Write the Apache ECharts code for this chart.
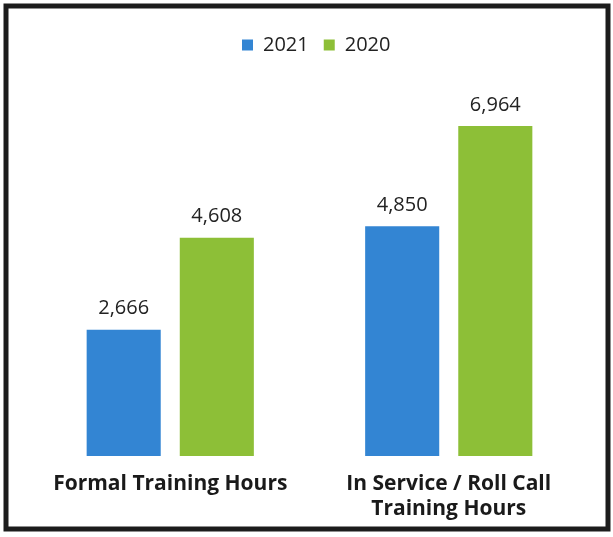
<!DOCTYPE html>
<html><head><meta charset="utf-8">
<script src="https://cdn.jsdelivr.net/npm/echarts@6/dist/echarts.min.js"></script>
<style>html,body{margin:0;padding:0;background:#fff}#c{width:613px;height:537px}</style>
</head><body><div id="c"></div>
<script>
const categories = ['Formal Training Hours', 'In Service / Roll Call\nTraining Hours'];
const seriesNames = ['2021', '2020'];
const values2021 = [2666, 4850];
const values2020 = [4608, 6964];

const chart = echarts.init(document.getElementById('c'), null, {renderer: 'canvas'});
const fmt = v => v.value.toLocaleString('en-US');
chart.setOption({
  backgroundColor: '#fff',
  animation: false,
  graphic: [{
    type: 'rect', shape: {x: 6, y: 6, width: 602, height: 523},
    style: {fill: 'none', stroke: '#1c1c1c', lineWidth: 5}, z: 10
  }],
  legend: {
    top: 30, left: 237, itemWidth: 11, itemHeight: 11, itemGap: 15,
    icon: 'rect',
    textStyle: {fontFamily: 'Open Sans', fontSize: 20, color: '#222', padding: [0, 0, 0, 5]},
    data: seriesNames
  },
  grid: {left: 31, right: 25, top: 77, bottom: 81, containLabel: false},
  xAxis: {
    type: 'category', data: categories,
    axisLine: {show: false}, axisTick: {show: false},
    axisLabel: {margin: 16, fontFamily: 'Open Sans', fontWeight: 'bold', fontSize: 21, color: '#1a1a1a', lineHeight: 25, interval: 0}
  },
  yAxis: {type: 'value', min: 0, max: 8000, show: false, splitLine: {show: false}},
  series: [
    {name: seriesNames[0], type: 'bar', data: values2021, barWidth: '26.6%', barGap: '25.7%',
     itemStyle: {color: '#3385d3'},
     label: {show: true, position: 'top', distance: 11, formatter: fmt, fontFamily: 'Open Sans', fontSize: 20, color: '#222'}},
    {name: seriesNames[1], type: 'bar', data: values2020, barWidth: '26.6%',
     itemStyle: {color: '#8dbf37'},
     label: {show: true, position: 'top', distance: 11, formatter: fmt, fontFamily: 'Open Sans', fontSize: 20, color: '#222'}}
  ]
});
</script></body></html>
